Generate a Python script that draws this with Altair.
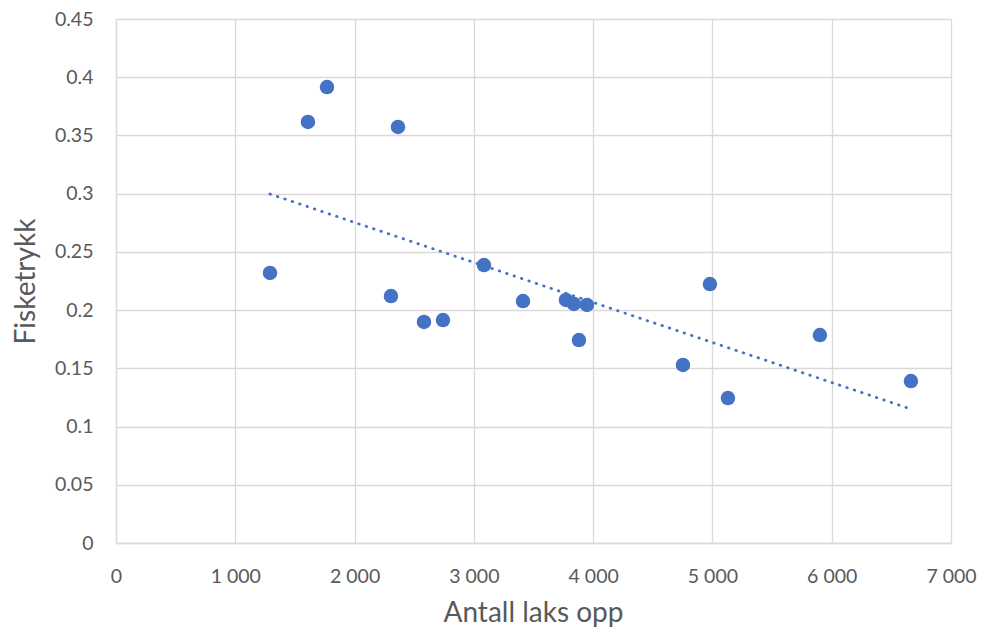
import altair as alt
import pandas as pd

laks_opp = [1291, 1609, 1769, 2364, 2305, 2582, 2741, 3085, 3412, 3772, 3839, 3948, 3881,
            4753, 4979, 5130, 5901, 6664]
fisketrykk = [0.2319, 0.3616, 0.3916, 0.3573, 0.2121, 0.1898, 0.1915, 0.2387, 0.2078, 0.2087,
              0.2053, 0.2044, 0.1743, 0.1529, 0.2224, 0.1245, 0.1786, 0.1391]
x_ticks = [0, 1000, 2000, 3000, 4000, 5000, 6000, 7000]
y_ticks = [0, 0.05, 0.1, 0.15, 0.2, 0.25, 0.3, 0.35, 0.4, 0.45]

df = pd.DataFrame({"x": laks_opp, "y": fisketrykk})

FONT = "Lato"
LABEL_COLOR = "#595959"
BLUE = "#4472C4"

x_enc = alt.X(
    "x:Q",
    scale=alt.Scale(domain=[0, 7000], nice=False, zero=False),
    axis=alt.Axis(
        title="Antall laks opp",
        values=x_ticks,
        labelExpr="replace(format(datum.value, ',d'), ',', ' ')",
        labelFlush=False,
        labelOverlap=False,
        labelPadding=24,
        labelFontSize=19.5,
        titleFontSize=28,
        titleFontWeight="normal",
        titleX=417,
        titleY=70,
        titleBaseline="middle",
    ),
)
y_enc = alt.Y(
    "y:Q",
    scale=alt.Scale(domain=[0, 0.45], nice=False, zero=False),
    axis=alt.Axis(
        title="Fisketrykk",
        values=y_ticks,
        format=".2~f",
        labelFlush=False,
        labelOverlap=False,
        labelPadding=23,
        labelFontSize=19.5,
        titleFontSize=28,
        titleFontWeight="normal",
        titleX=-90,
        titleY=262,
        titleBaseline="middle",
        titleAngle=270,
    ),
)

points = alt.Chart(df).mark_circle(size=210, opacity=1, color=BLUE).encode(x=x_enc, y=y_enc)

trend = alt.Chart(df).transform_regression("x", "y").mark_line(
    color=BLUE, strokeWidth=2.8, strokeDash=[0.5, 7.3], strokeCap="round"
).encode(x="x:Q", y="y:Q")

chart = (
    alt.layer(trend, points)
    .properties(
        width=835,
        height=524,
        background="white",
        autosize=alt.AutoSizeParams(type="none"),
        padding={"left": 116, "top": 19, "right": 30, "bottom": 87},
    )
    .configure_view(stroke=None)
    .configure_axis(
        grid=True,
        gridColor="#d9d9d9",
        gridWidth=1.3,
        domainColor="#d9d9d9",
        domainWidth=1.3,
        ticks=False,
        labelColor=LABEL_COLOR,
        titleColor=LABEL_COLOR,
        labelFont=FONT,
        titleFont=FONT,
    )
)

chart.save("out.html", embed_options={"renderer": "svg", "actions": False})
